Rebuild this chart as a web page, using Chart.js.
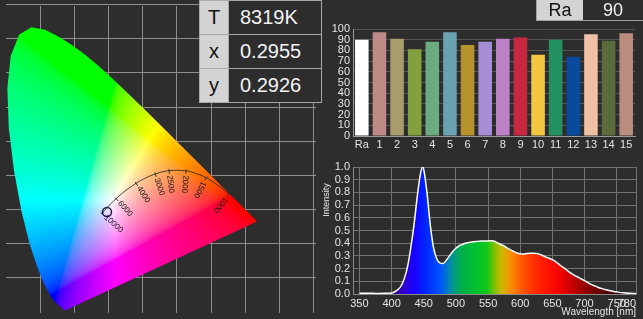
<!DOCTYPE html>
<html>
<head>
<meta charset="utf-8">
<script src="https://cdn.jsdelivr.net/npm/chart.js@4.4.0/dist/chart.umd.min.js"></script>
<style>
  html, body { margin: 0; padding: 0; }
  body { width: 643px; height: 319px; background: #2d2d2d; position: relative; overflow: hidden;
         font-family: "Liberation Sans", Arial, sans-serif; }
  canvas { position: absolute; }
  #cie { left: 0; top: 0; }
  #ra { left: 322px; top: 0; }
  #spec { left: 322px; top: 155px; }
  #info { position: absolute; left: 199px; top: 0; width: 123px; border: 1px solid #a8a8a8; border-top: none;
          border-collapse: collapse; background: #2d2d2d; }
  #info td { border: 1px solid #a8a8a8; height: 33px; padding: 0; font-size: 20px; }
  #info td.k { width: 28px; background: #d4d4d4; color: #111; text-align: center; }
  #info td.v { color: #f2f2f2; padding-left: 11px; }
  #rabox { position: absolute; left: 536px; top: 0; width: 106px; height: 20px; border: 1px solid #a0a0a0;
           border-top: none; display: flex; font-size: 18px; line-height: 20px; }
  #rabox .k { width: 46px; background: #d4d4d4; color: #111; text-align: center; }
  #rabox .v { flex: 1; color: #f2f2f2; text-align: center; }
</style>
</head>
<body>
<canvas id="cie" width="322" height="319"></canvas>
<canvas id="ra" width="321" height="155"></canvas>
<canvas id="spec" width="321" height="164"></canvas>
<table id="info"></table>
<div id="rabox"><div class="k">Ra</div><div class="v" id="raValue"></div></div>

<script>
// valores medidos
const infoKeys = ["T", "x", "y"];
const infoValues = ["8319K", "0.2955", "0.2926"];
const measuredXY = [0.2955, 0.2926];
const raGeneral = "90";

// indices de reproduccion cromatica
const raLabels = ["Ra", "1", "2", "3", "4", "5", "6", "7", "8", "9", "10", "11", "12", "13", "14", "15"];
const raValues = [90, 97, 91, 81, 88, 97, 85, 88, 91, 92, 76, 90, 74, 95, 89, 96];
const raColors = ["#ffffff", "#bf8a86", "#a99b6c", "#84a03e", "#6caa80", "#6aa2b2", "#b8922c", "#a68fd6",
  "#bd82c6", "#c8283f", "#f4c640", "#229061", "#0a4a9c", "#efc0a6", "#5c6b3c", "#b98c7d"];
const raTicks = [0, 10, 20, 30, 40, 50, 60, 70, 80, 90, 100];

// espectro
const waveNm = [350, 360, 370, 380, 390, 400, 405, 410, 415, 420, 425, 430, 435, 440, 445, 448, 450, 455,
  460, 465, 470, 475, 480, 485, 490, 495, 500, 505, 510, 515, 520, 525, 530, 535, 540, 545, 550, 555, 560,
  565, 570, 575, 580, 585, 590, 595, 600, 605, 610, 615, 620, 625, 630, 635, 640, 645, 650, 655, 660, 665,
  670, 675, 680, 685, 690, 695, 700, 705, 710, 715, 720, 725, 730, 735, 740, 745, 750, 760, 770, 780];
const intensity = [0.005, 0.005, 0.005, 0.004, 0.005, 0.008, 0.018, 0.035, 0.065, 0.125, 0.22, 0.37, 0.55,
  0.77, 0.95, 1.0, 0.98, 0.8, 0.55, 0.37, 0.28, 0.245, 0.24, 0.265, 0.3, 0.335, 0.36, 0.38, 0.39, 0.4,
  0.405, 0.41, 0.413, 0.415, 0.417, 0.418, 0.418, 0.419, 0.415, 0.402, 0.39, 0.378, 0.362, 0.348, 0.335,
  0.323, 0.317, 0.315, 0.318, 0.32, 0.32, 0.318, 0.313, 0.302, 0.29, 0.282, 0.27, 0.255, 0.235, 0.215,
  0.197, 0.178, 0.16, 0.145, 0.132, 0.118, 0.105, 0.09, 0.076, 0.065, 0.055, 0.045, 0.038, 0.031, 0.025,
  0.02, 0.016, 0.009, 0.005, 0.003];
const specXTicks = [340, 350, 400, 450, 500, 550, 600, 650, 700, 750, 780];

// locus espectral CIE 1931 (380-700 nm)
const locusX = [0.1741, 0.1740, 0.1738, 0.1736, 0.1733, 0.1730, 0.1726, 0.1721, 0.1714, 0.1703, 0.1689,
  0.1669, 0.1644, 0.1611, 0.1566, 0.1510, 0.1440, 0.1355, 0.1241, 0.1096, 0.0913, 0.0687, 0.0454, 0.0235,
  0.0082, 0.0039, 0.0139, 0.0389, 0.0743, 0.1142, 0.1547, 0.1929, 0.2296, 0.2658, 0.3016, 0.3373, 0.3731,
  0.4087, 0.4441, 0.4788, 0.5125, 0.5448, 0.5752, 0.6029, 0.6270, 0.6482, 0.6658, 0.6801, 0.6915, 0.7006,
  0.7079, 0.7140, 0.7190, 0.7230, 0.7260, 0.7283, 0.7300, 0.7311, 0.7320, 0.7334, 0.7344, 0.7347];
const locusY = [0.0050, 0.0050, 0.0049, 0.0049, 0.0048, 0.0048, 0.0048, 0.0048, 0.0051, 0.0058, 0.0069,
  0.0086, 0.0109, 0.0138, 0.0177, 0.0227, 0.0297, 0.0399, 0.0578, 0.0868, 0.1327, 0.2007, 0.2950, 0.4127,
  0.5384, 0.6548, 0.7502, 0.8120, 0.8338, 0.8262, 0.8059, 0.7816, 0.7543, 0.7243, 0.6923, 0.6589, 0.6245,
  0.5896, 0.5547, 0.5202, 0.4866, 0.4544, 0.4242, 0.3965, 0.3725, 0.3514, 0.3340, 0.3197, 0.3083, 0.2993,
  0.2920, 0.2859, 0.2809, 0.2770, 0.2740, 0.2717, 0.2700, 0.2689, 0.2680, 0.2666, 0.2656, 0.2653];

// locus de Planck
const planckK = [10000, 8000, 7000, 6000, 5000, 4000, 3500, 3000, 2500, 2000, 1800, 1500, 1200, 1000];
const planckX = [0.2807, 0.2952, 0.3064, 0.3221, 0.3451, 0.3805, 0.4053, 0.4369, 0.4770, 0.5267, 0.5491,
  0.5857, 0.6251, 0.6528];
const planckY = [0.2884, 0.3048, 0.3166, 0.3318, 0.3516, 0.3768, 0.3907, 0.4041, 0.4137, 0.4133, 0.4080,
  0.3931, 0.3674, 0.3444];
const planckLabelK = [10000, 6000, 4000, 3000, 2500, 2000, 1500, 1000];
const cieGrid = [0.1, 0.2, 0.3, 0.4, 0.5, 0.6, 0.7, 0.8, 0.9];

const fontFamily = "'Liberation Sans', Arial, sans-serif";
const textColor = "#e4e4e4";

// tabla y caja Ra
document.getElementById("info").innerHTML = infoKeys
  .map((k, i) => `<tr><td class="k">${k}</td><td class="v">${infoValues[i]}</td></tr>`)
  .join("");
document.getElementById("raValue").textContent = raGeneral;

function gammaSrgb(v) {
  return v <= 0.0031308 ? 12.92 * v : 1.055 * Math.pow(v, 1 / 2.4) - 0.055;
}

function xyToRgb(cx, cy) {
  if (cy < 0.002) cy = 0.002;
  const X = cx / cy, Y = 1, Z = (1 - cx - cy) / cy;
  let r = Math.max(3.2406 * X - 1.5372 * Y - 0.4986 * Z, 0);
  let g = Math.max(-0.9689 * X + 1.8758 * Y + 0.0415 * Z, 0);
  let b = Math.max(0.0557 * X - 0.204 * Y + 1.057 * Z, 0);
  const m = Math.max(r, g, b) || 1;
  return [gammaSrgb(r / m) * 255, gammaSrgb(g / m) * 255, gammaSrgb(b / m) * 255];
}

// relleno de la herradura
const horseshoePlugin = {
  id: "horseshoe",
  beforeDatasetsDraw(chart) {
    const { ctx, chartArea: a, scales: { x, y } } = chart;
    const w = Math.round(a.right - a.left), h = Math.round(a.bottom - a.top);
    const off = document.createElement("canvas");
    off.width = w;
    off.height = h;
    const octx = off.getContext("2d");
    const img = octx.createImageData(w, h);
    for (let py = 0; py < h; py++) {
      const cy = y.getValueForPixel(a.top + py + 0.5);
      for (let px = 0; px < w; px++) {
        const cx = x.getValueForPixel(a.left + px + 0.5);
        const c = xyToRgb(cx, cy);
        const k = (py * w + px) * 4;
        img.data[k] = c[0];
        img.data[k + 1] = c[1];
        img.data[k + 2] = c[2];
        img.data[k + 3] = 255;
      }
    }
    octx.putImageData(img, 0, 0);
    ctx.save();
    ctx.beginPath();
    locusX.forEach((lx, i) => {
      const px = x.getPixelForValue(lx), py = y.getPixelForValue(locusY[i]);
      if (i === 0) ctx.moveTo(px, py);
      else ctx.lineTo(px, py);
    });
    ctx.closePath();
    ctx.clip();
    ctx.drawImage(off, a.left, a.top);
    ctx.restore();
  },
  afterDatasetsDraw(chart) {
    const { ctx, scales: { x, y } } = chart;
    const pts = planckK.map((k, i) => ({ x: x.getPixelForValue(planckX[i]), y: y.getPixelForValue(planckY[i]) }));
    ctx.save();
    ctx.font = "8px " + fontFamily;
    ctx.fillStyle = "#151515";
    ctx.strokeStyle = "#303030";
    ctx.lineWidth = 1;
    ctx.textBaseline = "middle";
    ctx.textAlign = "left";
    planckLabelK.forEach((k) => {
      const i = planckK.indexOf(k);
      const p = pts[i];
      const a = pts[Math.max(i - 1, 0)], b = pts[Math.min(i + 1, pts.length - 1)];
      let tx = b.x - a.x, ty = b.y - a.y;
      const len = Math.hypot(tx, ty);
      tx /= len;
      ty /= len;
      let nx = -ty, ny = tx;
      if (ny < 0) { nx = -nx; ny = -ny; }
      ctx.beginPath();
      ctx.moveTo(p.x - nx * 1.5, p.y - ny * 1.5);
      ctx.lineTo(p.x + nx * 3, p.y + ny * 3);
      ctx.stroke();
      ctx.save();
      ctx.translate(p.x + nx * 4.5, p.y + ny * 4.5);
      ctx.rotate(Math.atan2(ny, nx));
      ctx.fillText(String(k), 0, 0);
      ctx.restore();
    });
    ctx.restore();
  },
};

new Chart(document.getElementById("cie"), {
  type: "scatter",
  data: {
    datasets: [
      {
        data: planckK.map((k, i) => ({ x: planckX[i], y: planckY[i] })),
        showLine: true,
        tension: 0.4,
        borderColor: "rgba(40,40,40,0.85)",
        borderWidth: 1,
        pointRadius: 0,
      },
      {
        data: [{ x: measuredXY[0], y: measuredXY[1] }],
        pointRadius: 4.5,
        pointBorderWidth: 1.5,
        pointBorderColor: "#1c1c4c",
        pointBackgroundColor: "rgba(0,0,0,0)",
      },
    ],
  },
  options: {
    responsive: false,
    animation: false,
    events: [],
    layout: { padding: 0 },
    plugins: { legend: { display: false }, tooltip: { enabled: false } },
    scales: {
      x: {
        type: "linear", min: 0, max: 322 / 355,
        afterBuildTicks: (s) => { s.ticks = cieGrid.map((v) => ({ value: v })); },
        ticks: { display: false },
        grid: { color: "#8e8e8e", drawTicks: false },
        border: { display: false },
      },
      y: {
        type: "linear", min: -1 / 355, max: 318 / 355,
        afterBuildTicks: (s) => { s.ticks = cieGrid.map((v) => ({ value: v })); },
        ticks: { display: false },
        grid: { color: "#8e8e8e", drawTicks: false },
        border: { display: false },
      },
    },
  },
  plugins: [horseshoePlugin],
});

// grafica de barras Ra
new Chart(document.getElementById("ra"), {
  type: "bar",
  data: {
    labels: raLabels,
    datasets: [{ data: raValues, backgroundColor: raColors, barPercentage: 0.77, categoryPercentage: 1 }],
  },
  options: {
    responsive: false,
    animation: false,
    events: [],
    layout: { padding: { top: 29, right: 8, left: 0, bottom: 0 } },
    plugins: { legend: { display: false }, tooltip: { enabled: false } },
    scales: {
      x: {
        grid: { display: false, drawTicks: false },
        border: { color: "#9a9a9a" },
        ticks: { color: textColor, font: { size: 11, family: fontFamily }, padding: 2, maxRotation: 0, autoSkip: false },
        afterFit: (s) => { s.height = 19; s.paddingLeft = 0; s.paddingRight = 0; },
      },
      y: {
        min: 0, max: 100,
        afterBuildTicks: (s) => { s.ticks = raTicks.map((v) => ({ value: v })); },
        ticks: { color: textColor, font: { size: 11, family: fontFamily }, padding: 3, autoSkip: false },
        grid: { color: "#555555", drawTicks: false },
        border: { color: "#9a9a9a" },
        afterFit: (s) => { s.width = 31; s.paddingTop = 0; s.paddingBottom = 0; },
      },
    },
  },
});

// colores del espectro
const gradNm = [400, 420, 435, 450, 470, 480, 490, 500, 510, 530, 548, 560, 570, 580, 590, 600, 620, 645, 665, 690, 710, 735, 760, 780];
const gradColor = ["#2a0080", "#3000d0", "#1800ff", "#0020ff", "#0048ff", "#0060ee", "#0088b0", "#00a070",
  "#00b048", "#00c030", "#10c818", "#80c000", "#c8b800", "#e8a000", "#ff8000", "#ff6000", "#ff3000",
  "#ff1000", "#ee0000", "#b00000", "#800000", "#500000", "#2a0000", "#1a0000"];

const intensityLabelPlugin = {
  id: "intensityLabel",
  afterDraw(chart) {
    const { ctx } = chart;
    ctx.save();
    ctx.translate(5, 45);
    ctx.rotate(-Math.PI / 2);
    ctx.font = "9px " + fontFamily;
    ctx.fillStyle = textColor;
    ctx.textAlign = "center";
    ctx.textBaseline = "middle";
    ctx.fillText("Intensity", 0, 0);
    ctx.restore();
  },
};

new Chart(document.getElementById("spec"), {
  type: "line",
  data: {
    datasets: [
      {
        data: waveNm.map((w, i) => ({ x: w, y: intensity[i] })),
        borderColor: "#ffffff",
        borderWidth: 1.5,
        pointRadius: 0,
        cubicInterpolationMode: "monotone",
        fill: "origin",
        backgroundColor: (c) => {
          const chart = c.chart;
          const xs = chart.scales.x;
          if (!chart.chartArea || !xs) return "#0030ff";
          const x0 = xs.getPixelForValue(gradNm[0]);
          const x1 = xs.getPixelForValue(gradNm[gradNm.length - 1]);
          const g = chart.ctx.createLinearGradient(x0, 0, x1, 0);
          gradNm.forEach((nm, i) => {
            g.addColorStop((nm - gradNm[0]) / (gradNm[gradNm.length - 1] - gradNm[0]), gradColor[i]);
          });
          return g;
        },
      },
    ],
  },
  options: {
    responsive: false,
    animation: false,
    events: [],
    layout: { padding: { top: 12, right: 7, left: 0, bottom: 0 } },
    plugins: { legend: { display: false }, tooltip: { enabled: false } },
    scales: {
      x: {
        type: "linear", min: 340, max: 780,
        afterBuildTicks: (s) => { s.ticks = specXTicks.map((v) => ({ value: v })); },
        ticks: {
          color: textColor, font: { size: 11, family: fontFamily }, padding: 3, align: "inner",
          autoSkip: false, maxRotation: 0,
          callback: (v) => (v === 340 ? "" : String(v)),
        },
        grid: { color: "#727272", drawTicks: false },
        border: { color: "#8a8a8a" },
        title: {
          display: true, text: "Wavelength [nm]", align: "end", color: textColor,
          font: { size: 10, family: fontFamily }, padding: { top: 0, bottom: 1 },
        },
        afterFit: (s) => { s.height = 25; s.paddingLeft = 0; s.paddingRight = 0; },
      },
      y: {
        min: 0, max: 1,
        ticks: {
          stepSize: 0.1, autoSkip: false, color: textColor, font: { size: 11, family: fontFamily }, padding: 3,
          callback: (v) => Number(v).toFixed(1),
        },
        grid: { color: "#727272", drawTicks: false },
        border: { color: "#8a8a8a" },
        afterFit: (s) => { s.width = 31; s.paddingTop = 0; s.paddingBottom = 0; },
      },
    },
  },
  plugins: [intensityLabelPlugin],
});
</script>
</body>
</html>
